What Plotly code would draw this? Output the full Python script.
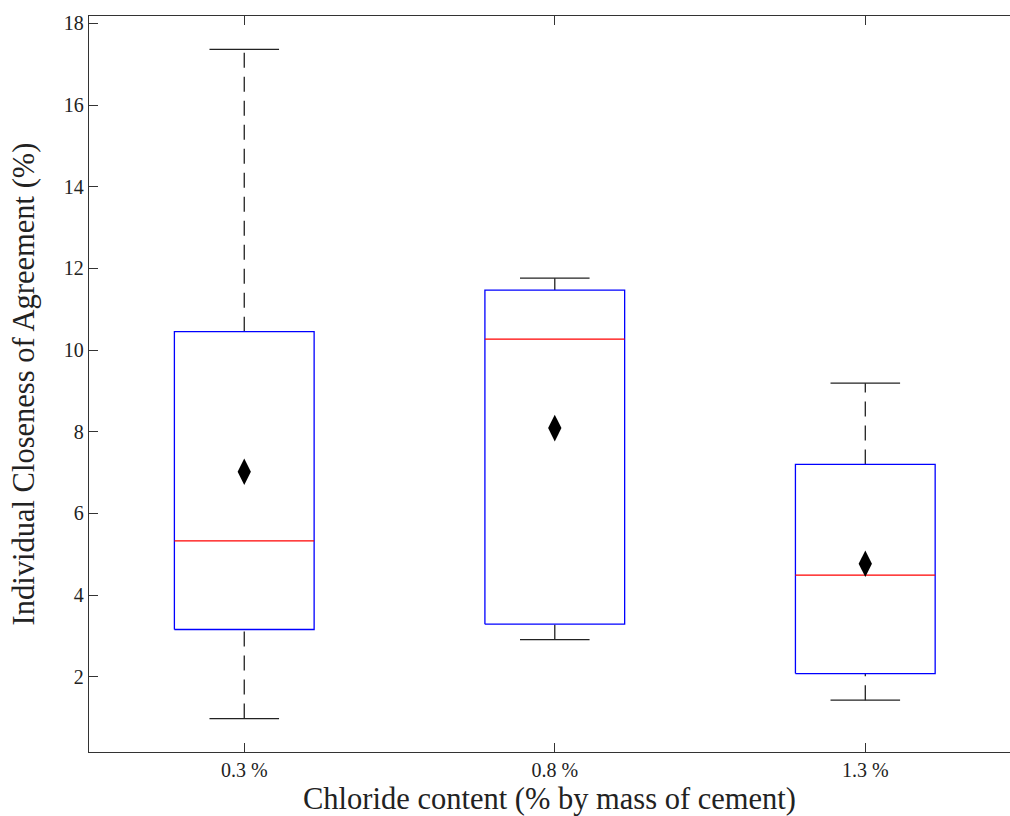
import plotly.graph_objects as go

# Box-plot summary per chloride level (% by mass of cement)
categories = ["0.3 %", "0.8 %", "1.3 %"]
lower_whisker = [0.98, 2.91, 1.43]
q1 = [3.16, 3.29, 2.08]
median = [5.33, 10.27, 4.49]
q3 = [10.45, 11.47, 7.20]
upper_whisker = [17.36, 11.76, 9.19]
mean = [7.02, 8.09, 4.77]

positions = [1, 2, 3]
box_half = 0.225
cap_half = 0.112

fig = go.Figure()

for x, lw, a, m, b, uw in zip(positions, lower_whisker, q1, median, q3, upper_whisker):
    # dashed whiskers
    fig.add_trace(go.Scatter(x=[x, x, None, x, x], y=[b, uw, None, lw, a], mode="lines",
                             line=dict(color="#222222", width=1.3, dash="15px,9px"),
                             showlegend=False, hoverinfo="skip"))
    # whisker caps
    fig.add_trace(go.Scatter(x=[x - cap_half, x + cap_half, None, x - cap_half, x + cap_half],
                             y=[uw, uw, None, lw, lw], mode="lines",
                             line=dict(color="#222222", width=1.3),
                             showlegend=False, hoverinfo="skip"))
    # box outline
    fig.add_trace(go.Scatter(x=[x - box_half, x + box_half, x + box_half, x - box_half, x - box_half],
                             y=[a, a, b, b, a], mode="lines",
                             line=dict(color="#0000ff", width=1.3),
                             showlegend=False, hoverinfo="skip"))
    # median
    fig.add_trace(go.Scatter(x=[x - box_half, x + box_half], y=[m, m], mode="lines",
                             line=dict(color="#ff0000", width=1.3),
                             showlegend=False, hoverinfo="skip"))

# means
fig.add_trace(go.Scatter(x=positions, y=mean, mode="markers",
                         marker=dict(symbol="diamond-tall", size=19, color="black",
                                     line=dict(width=0)),
                         showlegend=False))

lo = min(lower_whisker)
hi = max(upper_whisker)
pad = 0.05 * (hi - lo)

font_family = "Liberation Serif"

fig.update_layout(
    width=1010, height=816,
    margin=dict(l=89, r=0, t=16, b=64),
    plot_bgcolor="white", paper_bgcolor="white",
    font=dict(family=font_family, color="#222222"),
    xaxis=dict(
        range=[0.5, 3.466],
        tickvals=positions, ticktext=categories,
        ticks="inside", ticklen=9, tickwidth=1, tickcolor="#333333",
        showline=True, linecolor="#333333", linewidth=1.3, mirror="ticks",
        showgrid=False, zeroline=False,
        tickfont=dict(size=20, family=font_family, color="#222222"),
        title=dict(text="Chloride content (% by mass of cement)",
                   font=dict(size=30.5, family=font_family, color="#222222"), standoff=7),
    ),
    yaxis=dict(
        range=[lo - pad, hi + pad],
        tickvals=[2, 4, 6, 8, 10, 12, 14, 16, 18],
        ticks="inside", ticklen=9, tickwidth=1, tickcolor="#333333",
        showline=True, linecolor="#333333", linewidth=1.3, mirror=False,
        showgrid=False, zeroline=False,
        tickfont=dict(size=20, family=font_family, color="#222222"),
        title=dict(text="Individual Closeness of Agreement (%)",
                   font=dict(size=30.5, family=font_family, color="#222222"), standoff=20),
    ),
)

fig.write_html("out.html")
